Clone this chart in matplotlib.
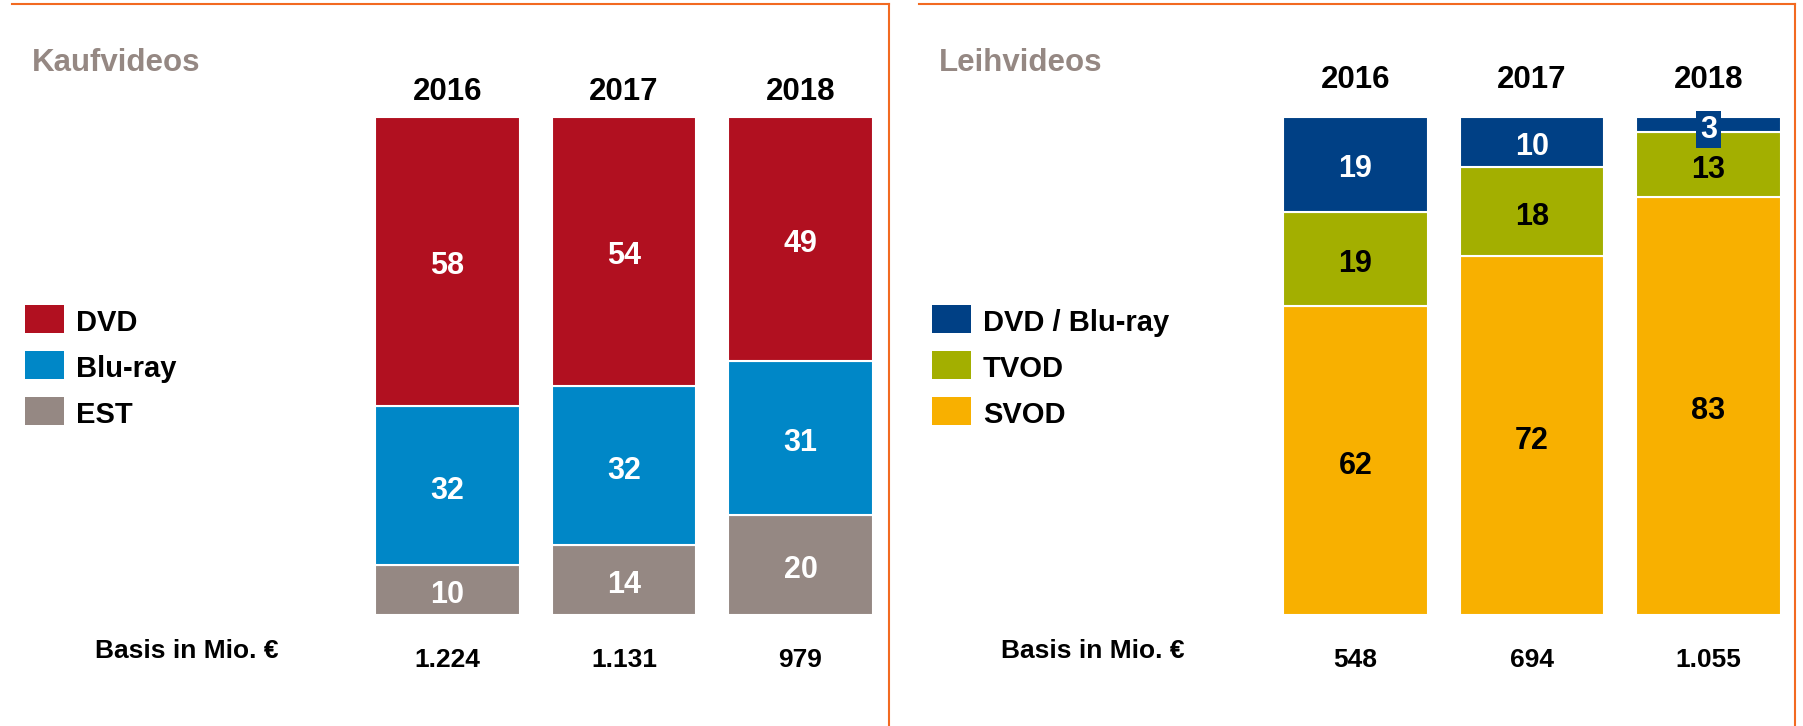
import numpy as np
import matplotlib
matplotlib.use("Agg")
import matplotlib.pyplot as plt
from matplotlib.patches import Rectangle
from matplotlib.lines import Line2D
from matplotlib.transforms import offset_copy

plt.rcParams['font.family'] = ['Liberation Sans', 'DejaVu Sans']
plt.rcParams['font.weight'] = 'bold'

# Data
years = ['2016', '2017', '2018']

kauf_labels = ['DVD', 'Blu-ray', 'EST']
kauf_dvd = [58, 54, 49]
kauf_bluray = [32, 32, 31]
kauf_est = [10, 14, 20]
kauf_basis = ['1.224', '1.131', '979']

leih_labels = ['DVD / Blu-ray', 'TVOD', 'SVOD']
leih_disc = [19, 10, 3]
leih_tvod = [19, 18, 13]
leih_svod = [62, 72, 83]
leih_basis = ['548', '694', '1.055']

kauf_colors = ['#B11020', '#0087C7', '#958883']
leih_colors = ['#004085', '#A3AF00', '#F8B000']
kauf_text = ['white', 'white', 'white']
leih_text = ['white', 'black', 'black']
grey = '#958883'
orange = '#F26A21'

W, H = 1803, 726
fig = plt.figure(figsize=(W / 100, H / 100), dpi=100)


def fx(x):
    return x / W


def fy(y):
    return 1 - y / H


def down(trans, px):
    # shift text a few pixels downwards so the glyphs sit centred
    return offset_copy(trans, fig=fig, y=-px, units='dots')


def panel(left_px, top_series, colors, tcolors, labels, basis, title, title_x, leg_x, year_y, basis_x):
    # axes so that bar centres fall at left_px + i*176.5
    ax = fig.add_axes([fx(left_px - 88.25), fy(615), 529.5 / W, 498 / H])
    ax.set_xlim(-0.5, 2.5)
    ax.set_ylim(0, 100)
    ax.axis('off')
    x = np.arange(len(years))
    totals = np.sum(top_series, axis=0)
    # stack from bottom: last series at bottom
    bottom = np.zeros(len(years))
    for k in range(len(top_series) - 1, -1, -1):
        vals = np.array(top_series[k]) / totals * 100
        ax.bar(x, vals, width=0.82, bottom=bottom, color=colors[k],
               edgecolor='white', linewidth=1.5)
        for i in range(len(years)):
            box = None
            if top_series[k][i] < 5:
                box = dict(boxstyle='square,pad=0.12', fc=colors[k], ec='none')
            ax.text(x[i], bottom[i] + vals[i] / 2, str(top_series[k][i]),
                    transform=down(ax.transData, 5),
                    ha='center', va='center', fontsize=22, color=tcolors[k],
                    bbox=box)
        bottom += vals
    for i, yr in enumerate(years):
        ax.text(x[i], year_y, yr, transform=down(ax.get_xaxis_transform(), 4),
                ha='center', va='center', fontsize=22.5, color='black')
        ax.text(x[i], (615 - 657) / 498, basis[i],
                transform=down(ax.get_xaxis_transform(), 3),
                ha='center', va='center', fontsize=19, color='black')
    fig.text(fx(title_x), fy(63), title, ha='left', va='center',
             fontsize=22.5, color=grey)
    for k, lab in enumerate(labels):
        yc = 319 + k * 46
        fig.add_artist(Rectangle((fx(leg_x), fy(yc + 14)), 39 / W, 28 / H,
                                 transform=fig.transFigure, color=colors[k], lw=0))
        fig.text(fx(leg_x + 51), fy(yc + 4), lab, ha='left', va='center',
                 fontsize=21, color='black')
    fig.text(fx(basis_x), fy(651), 'Basis in Mio. €', ha='left', va='center',
             fontsize=19, color='black')


panel(447.5, [kauf_dvd, kauf_bluray, kauf_est], kauf_colors, kauf_text, kauf_labels,
      kauf_basis, 'Kaufvideos', 32, 25, (615 - 88) / 498, 95)
panel(1355.5, [leih_disc, leih_tvod, leih_svod], leih_colors, leih_text, leih_labels,
      leih_basis, 'Leihvideos', 939, 932, (615 - 76) / 498, 1001)

# orange frame lines
fig.add_artist(Line2D([fx(12), fx(889)], [fy(4), fy(4)], transform=fig.transFigure, color=orange, lw=1.5))
fig.add_artist(Line2D([fx(889), fx(889)], [fy(4), fy(726)], transform=fig.transFigure, color=orange, lw=1.5))
fig.add_artist(Line2D([fx(919), fx(1795)], [fy(4), fy(4)], transform=fig.transFigure, color=orange, lw=1.5))
fig.add_artist(Line2D([fx(1795), fx(1795)], [fy(4), fy(726)], transform=fig.transFigure, color=orange, lw=1.5))

fig.savefig('out.png', dpi=100)
